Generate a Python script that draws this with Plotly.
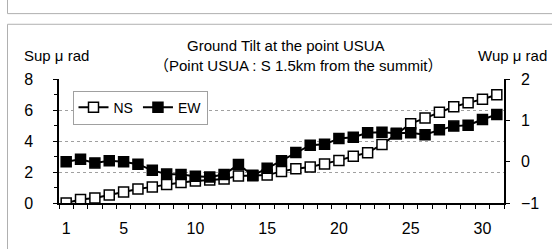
import plotly.graph_objects as go

days = list(range(1, 32))
ns = [0.0, 0.23, 0.33, 0.52, 0.71, 0.9, 1.04, 1.2, 1.33, 1.42, 1.48, 1.55, 1.75, 1.76, 1.8,
      2.04, 2.21, 2.33, 2.52, 2.75, 3.02, 3.25, 3.77, 4.45, 5.12, 5.48, 5.85, 6.21, 6.46, 6.69, 6.98]
ew = [0.0, 0.06, -0.03, 0.02, 0.0, -0.06, -0.21, -0.3, -0.31, -0.35, -0.37, -0.31, -0.07, -0.33, -0.16,
      0.02, 0.22, 0.4, 0.42, 0.56, 0.59, 0.7, 0.71, 0.69, 0.7, 0.65, 0.77, 0.86, 0.88, 1.02, 1.14]
x_labels = [1, 5, 10, 15, 20, 25, 30]
left_ticks = [0, 2, 4, 6, 8]
right_ticks = [-1, 0, 1, 2]

FONT = "Liberation Sans, Noto Sans CJK JP, sans-serif"

fig = go.Figure()
fig.add_trace(go.Scatter(
    x=days, y=ns, name="NS", mode="lines+markers",
    line=dict(color="black", width=2),
    marker=dict(symbol="square", size=10, color="white", line=dict(color="black", width=1.5)),
))
fig.add_trace(go.Scatter(
    x=days, y=ew, name="EW", mode="lines+markers", yaxis="y2",
    line=dict(color="black", width=2),
    marker=dict(symbol="square", size=10, color="black", line=dict(color="black", width=1.5)),
))

L, R, T, B = 59, 48, 79, 42
W, H = 552, 249
pw, ph = W - L - R, H - T - B

def px(x):
    return (x - L) / pw

def py(y):
    return (H - B - y) / ph

fig.update_layout(
    width=W, height=H,
    margin=dict(l=L, r=R, t=T, b=B, pad=0),
    paper_bgcolor="white", plot_bgcolor="white",
    font=dict(family=FONT, size=15, color="black"),
    showlegend=True,
    legend=dict(
        orientation="h", x=px(72.5), y=py(91), xanchor="left", yanchor="top",
        bordercolor="#a0a0a0", borderwidth=1, bgcolor="white",
        font=dict(size=14), itemwidth=30, tracegroupgap=0,
    ),
    xaxis=dict(
        range=[0.5, 31.5], tickmode="array", tickvals=x_labels,
        ticks="", showgrid=False, zeroline=False,
        showline=True, linecolor="black", linewidth=1.5,
        ticklabelstandoff=10, tickfont=dict(size=16),
        minor=dict(tickmode="array", tickvals=[d - 0.5 for d in days] + [31.5],
                   ticks="outside", ticklen=4, tickcolor="black", showgrid=False),
    ),
    yaxis=dict(
        range=[0, 8], tickmode="array", tickvals=left_ticks,
        ticks="outside", ticklen=4, tickcolor="black",
        showgrid=True, gridcolor="#a0a0a0", griddash="dot", gridwidth=1,
        zeroline=False, showline=True, linecolor="black", linewidth=1.5,
        ticklabelstandoff=17, tickfont=dict(size=16),
        minor=dict(tickmode="array", tickvals=[1, 3, 5, 7], ticks="outside",
                   ticklen=3, tickcolor="black", showgrid=False),
    ),
    yaxis2=dict(
        range=[-1, 2], tickmode="array", tickvals=right_ticks, overlaying="y", side="right",
        ticks="outside", ticklen=4, tickcolor="black",
        showgrid=False, zeroline=False, showline=True, linecolor="black", linewidth=1.5,
        ticklabelstandoff=8, tickformat="d", tickfont=dict(size=16),
    ),
    shapes=[
        dict(type="rect", xref="paper", yref="paper",
             x0=px(7.5), x1=px(570), y0=py(11.5), y1=py(-20),
             line=dict(color="#b0b0b0", width=1), fillcolor="rgba(0,0,0,0)", layer="below"),
        dict(type="rect", xref="paper", yref="paper",
             x0=px(7.5), x1=px(570), y0=py(270), y1=py(22.5),
             line=dict(color="#b0b0b0", width=1), fillcolor="rgba(0,0,0,0)", layer="below"),
    ],
    annotations=[
        dict(text="Ground Tilt at the point USUA", xref="paper", yref="paper",
             x=px(286), y=py(44), showarrow=False, xanchor="center", yanchor="middle",
             font=dict(size=15)),
        dict(text="（Point USUA : S 1.5km from the summit）", xref="paper", yref="paper",
             x=px(298), y=py(65), showarrow=False, xanchor="center", yanchor="middle",
             font=dict(size=15)),
        dict(text="Sup μ rad", xref="paper", yref="paper",
             x=px(22), y=py(55), showarrow=False, xanchor="left", yanchor="middle",
             font=dict(size=15)),
        dict(text="Wup μ rad", xref="paper", yref="paper",
             x=px(549), y=py(55), showarrow=False, xanchor="right", yanchor="middle",
             font=dict(size=15)),
    ],
)

fig.write_html("out.html", config={"displayModeBar": False},
               post_script="document.body.style.margin='0';")
